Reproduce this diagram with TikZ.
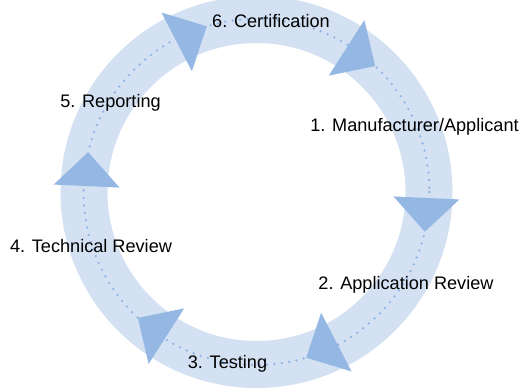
\documentclass[tikz,border=0pt]{standalone}
\usepackage{fontspec}
\setmainfont{Liberation Sans}
\usetikzlibrary{calc}
\definecolor{ringblue}{HTML}{D4E1F3}
\definecolor{headblue}{HTML}{94B8E3}
\definecolor{dotblue}{HTML}{8EB4E3}
\begin{document}
\begin{tikzpicture}[x=0.75pt,y=-0.75pt,
  lbl/.style={font=\fontsize{13.6}{16}\selectfont, anchor=base, inner sep=0pt, text=black}]
\useasboundingbox (0,0) rectangle (524,392);
\coordinate (c) at (256.5,192);
\draw[ringblue, line width=35.25pt] (c) circle (172.5);
\draw[dotblue, line width=1.9pt, line cap=round, dash pattern=on 0pt off 5.6pt] (c) circle (173);
\foreach \i/\a in {1/-58,2/2,3/62,4/122,5/182,6/242} {
  \coordinate (M\i) at ($(c)+(\a:170)$);
  \pgfmathsetmacro\b{\a+11.3}
  \coordinate (P\i) at ($(c)+(\b:173)$);
  \fill[headblue] ($(M\i)!24.75pt!90:(P\i)$) -- (P\i) -- ($(M\i)!24.75pt!-90:(P\i)$) -- cycle;
}
\node[lbl] (l6) at (271,28) {6. Certification};
\node[lbl] (l1) at (414.5,132) {1. Manufacturer/Applicant};
\node[lbl] (l2) at (406,289) {2. Application Review};
\node[lbl] (l3) at (227.5,368) {3. Testing};
\node[lbl] (l4) at (91,252) {4. Technical Review};
\node[lbl] (l5) at (110.5,108) {5. Reporting};
\end{tikzpicture}
\end{document}
